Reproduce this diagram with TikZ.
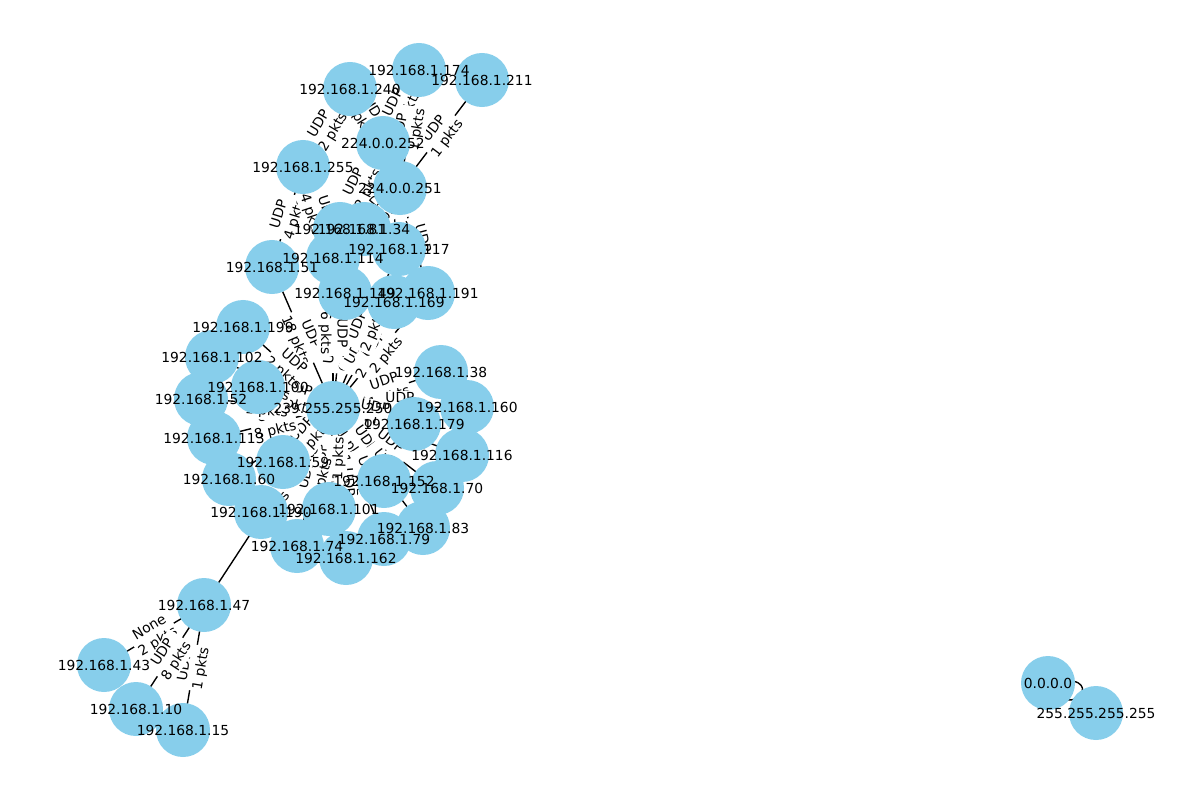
\documentclass[tikz,border=0pt]{standalone}
\usepackage{fontspec}
\setmainfont{DejaVu Sans}
\definecolor{skyblue}{HTML}{87CEEB}
\begin{document}
\begin{tikzpicture}[x=0.254mm,y=-0.254mm,
  edge/.style={line width=1pt, black},
  elab/.style={fill=white, rounded corners=2pt, inner sep=1.2pt, align=center, font=\fontsize{10}{12}\selectfont, sloped, midway},
  disc/.style={fill=skyblue},
  nlab/.style={font=\fontsize{10}{12}\selectfont, inner sep=0pt}]
\useasboundingbox (0,0) rectangle (1200,800);
\foreach \n/\x/\y in {a174/419/70, a211/482/80, a240/350/89, L/383/143, B/303/167, M/400/188,
  a81/340/229, a34/364/229, a117/399/249, a114/333/258, a51/272/267, a149/345/293, a191/428/293,
  a169/394/302, a199/243/327, a102/212/357, a100/258/387, a52/201/399, H/333/408, a38/441/372,
  a160/467/407, a179/414/424, a113/214/438, a116/462/455, a59/283/462, a152/384/481, a70/437/488,
  a60/229/479, a190/261/512, a101/329/509, a83/423/528, a79/384/539, a74/297/546, a162/346/558,
  a47/204/605, a43/104/665, a10/136/709, a15/183/730, Z/1048/683, ZB/1096/713}
  \coordinate (\n) at (\x,\y);
% edges
\foreach \a/\b in {a51/H, a149/H, a169/H, a191/H, a38/H, a160/H, a179/H, a116/H, a70/H, a152/H,
  a83/H, a79/H, a162/H, a101/H, a74/H, a190/H, a60/H, a59/H, a113/H, a52/H, a100/H, a102/H,
  a199/H, a117/H, a114/H, a47/H, a240/L, a174/L, a81/L, a117/L, a211/M, a174/M, a191/M, a34/M,
  a240/B, a51/B, a114/B, a43/a47, a10/a47, a15/a47}
  \draw[edge] (\a) -- (\b);
\draw[edge] (Z) .. controls (1112,668) and (1072,728) .. (Z);
% edge labels
\path (a43) -- (a47) node[elab] (ea43a47) {None\\2 pkts};
\foreach \a/\b/\k in {a51/H/18, a149/H/6, a169/H/2, a191/H/2, a38/H/1, a160/H/1, a179/H/1,
  a116/H/1, a70/H/1, a152/H/1, a83/H/1, a79/H/1, a162/H/1, a101/H/1, a74/H/2, a190/H/2, a60/H/3,
  a59/H/1, a113/H/8, a52/H/1, a100/H/4, a102/H/8, a199/H/2, a117/H/2, a114/H/6, a47/H/4,
  a240/L/2, a174/L/1, a81/L/2, a117/L/1, a211/M/1, a174/M/1, a191/M/1, a34/M/2, a240/B/2,
  a51/B/4, a114/B/4, a15/a47/1, a10/a47/8}
  \path (\a) -- (\b) node[elab] (e\a\b) {UDP\\\k{} pkts};
% discs
\foreach \n in {a174, a211, a240, L, B, M, a81, a34, a117, a114, a51, a149, a191, a169, a199,
  a102, a100, a52, H, a38, a160, a179, a113, a116, a59, a152, a70, a60, a190, a101, a83, a79,
  a74, a162, a47, a43, a10, a15, Z, ZB}
  \fill[disc] (\n) circle[radius=6.86mm];
% node labels
\foreach \n/\t in {a174/192.168.1.174, a211/192.168.1.211, a240/192.168.1.240, L/224.0.0.252,
  B/192.168.1.255, M/224.0.0.251, a81/192.168.1.81, a34/192.168.1.34, a117/192.168.1.117,
  a114/192.168.1.114, a51/192.168.1.51, a149/192.168.1.149, a191/192.168.1.191,
  a169/192.168.1.169, a199/192.168.1.199, a102/192.168.1.102, a100/192.168.1.100,
  a52/192.168.1.52, H/239.255.255.250, a38/192.168.1.38, a160/192.168.1.160,
  a179/192.168.1.179, a113/192.168.1.113, a116/192.168.1.116, a59/192.168.1.59,
  a152/192.168.1.152, a70/192.168.1.70, a60/192.168.1.60, a190/192.168.1.190,
  a101/192.168.1.101, a83/192.168.1.83, a79/192.168.1.79, a74/192.168.1.74,
  a162/192.168.1.162, a47/192.168.1.47, a43/192.168.1.43, a10/192.168.1.10,
  a15/192.168.1.15, Z/0.0.0.0, ZB/255.255.255.255}
  \node[nlab] (t\n) at (\n) {\t};
\end{tikzpicture}
\end{document}
